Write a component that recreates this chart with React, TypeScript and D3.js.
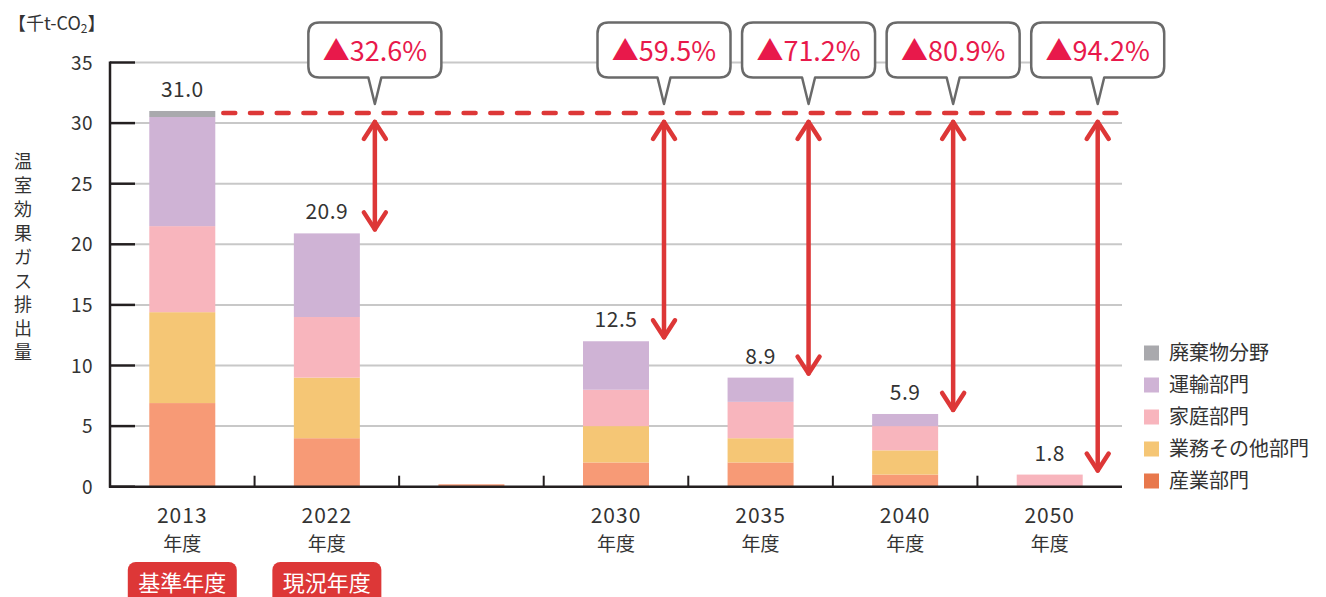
import React from 'react';
import * as d3 from 'd3';

// 年度 categories (the blank slot is the gap between 2022 and 2030)
const categories = ['2013', '2022', '', '2030', '2035', '2040', '2050'];
const badges = ['基準年度', '現況年度', '', '', '', '', ''];

// segments, 千t-CO2
const industry = [6.9, 4.0, 0.2, 2.0, 2.0, 1.0, 0];
const business = [7.5, 5.0, 0, 3.0, 2.0, 2.0, 0];
const household = [7.1, 5.0, 0, 3.0, 3.0, 2.0, 1.0];
const transport = [9.0, 6.9, 0, 4.0, 2.0, 1.0, 0];
const waste = [0.5, 0, 0, 0, 0, 0, 0];

const totalLabels = ['31.0', '20.9', '', '12.5', '8.9', '5.9', '1.8'];
const reductionLabels = ['', '▲32.6%', '', '▲59.5%', '▲71.2%', '▲80.9%', '▲94.2%'];
const baseValue = 31.0;

const yTicks = [0, 5, 10, 15, 20, 25, 30, 35];

const seriesNames = ['産業部門', '業務その他部門', '家庭部門', '運輸部門', '廃棄物分野'];
const seriesColors = ['#f79a76', '#f5c675', '#f8b5bd', '#cfb3d5', '#a9a9ad'];
const legendColors = ['#e8784c', '#f5c675', '#f8b5bd', '#cfb3d5', '#a9a9ad'];

const font = '"Noto Sans CJK JP", "Noto Sans", sans-serif';
const RED = '#dd3737';

export default function App() {
  const left = 110, right = 1122, top = 62.5, bottom = 486.7;
  const keys = categories.map((c, i) => i + ':' + c);
  const x = d3.scaleBand().domain(keys)
    .range([left, right]).paddingInner(0.5435).paddingOuter(0.27175);
  const y = d3.scaleLinear().domain([0, 35]).range([bottom, top]);
  const bw = x.bandwidth();
  const step = x.step();

  const rows = categories.map((c, i) => ({
    key: keys[i], s0: industry[i], s1: business[i], s2: household[i], s3: transport[i], s4: waste[i],
  }));
  const stack = d3.stack<any>().keys(['s0', 's1', 's2', 's3', 's4'])(rows);
  const tops = rows.map(r => r.s0 + r.s1 + r.s2 + r.s3 + r.s4);

  const callout = (cx: number, i: number) => {
    const w = 133, h = 55, y0 = y(35) - 40, y1 = y0 + h, r = 11, tip = y(baseValue) - 7;
    const x0 = cx - w / 2, x1 = cx + w / 2;
    const p = `M${x0 + r},${y0} H${x1 - r} Q${x1},${y0} ${x1},${y0 + r} V${y1 - r} Q${x1},${y1} ${x1 - r},${y1}` +
      ` H${cx + 6.5} L${cx},${tip} L${cx - 6.5},${y1} H${x0 + r} Q${x0},${y1} ${x0},${y1 - r} V${y0 + r} Q${x0},${y0} ${x0 + r},${y0} Z`;
    return (
      <g key={'c' + i}>
        <path d={p} fill="#fff" stroke="#6a6a6a" strokeWidth={2.5} strokeLinejoin="round" />
        <text x={cx} y={y0 + 38} textAnchor="middle" fontSize={27} fill="#e8194b">{reductionLabels[i]}</text>
      </g>
    );
  };

  const arrow = (ax: number, yTop: number, yBot: number, i: number) => (
    <g key={'a' + i} stroke={RED} strokeWidth={4.5} strokeLinecap="round" strokeLinejoin="round" fill="none">
      <line x1={ax} x2={ax} y1={yTop} y2={yBot} />
      <polyline points={`${ax - 11},${yTop + 17} ${ax},${yTop} ${ax + 11},${yTop + 17}`} />
      <polyline points={`${ax - 11},${yBot - 17} ${ax},${yBot} ${ax + 11},${yBot - 17}`} />
    </g>
  );

  const yTitle = '温室効果ガス排出量'.split('');

  return (
    <svg width={1326} height={597} style={{ position: 'absolute', left: 0, top: 0, fontFamily: font }}>
      {/* unit */}
      <text x={8} y={30} fontSize={18} fill="#333">【千t-CO<tspan fontSize={12} dy={3}>2</tspan><tspan dy={-3}>】</tspan></text>
      {/* y title */}
      {yTitle.map((ch, i) => (
        <text key={i} x={23} y={168 + i * 23.9} textAnchor="middle" fontSize={18} fill="#333">{ch}</text>
      ))}

      {/* grid */}
      {yTicks.filter(t => t > 0).map(t => (
        <line key={t} x1={left + 25} x2={right} y1={y(t)} y2={y(t)} stroke="#c8c8c8" strokeWidth={2} />
      ))}

      {/* bars */}
      {stack.map((layer, si) => (
        <g key={si} fill={seriesColors[si]}>
          {layer.map((d, i) => d[1] - d[0] > 0 ? (
            <rect key={i} x={x(keys[i])} width={bw} y={y(d[1])} height={y(d[0]) - y(d[1])} />
          ) : null)}
        </g>
      ))}

      {/* axes */}
      <line x1={left} x2={left} y1={y(35) - 1} y2={bottom + 1} stroke="#231f20" strokeWidth={2.5} />
      <line x1={left - 1} x2={right} y1={bottom} y2={bottom} stroke="#231f20" strokeWidth={2.5} />
      {yTicks.map(t => (
        <g key={t}>
          <line x1={left} x2={left + 25} y1={y(t)} y2={y(t)} stroke="#231f20" strokeWidth={2.5} />
          <text x={93} y={y(t) + 7} textAnchor="end" fontSize={19} letterSpacing={0.5} fill="#333">{t}</text>
        </g>
      ))}
      {keys.slice(1).map((k, i) => (
        <line key={k} x1={left + (i + 1) * step} x2={left + (i + 1) * step} y1={bottom} y2={bottom - 11} stroke="#231f20" strokeWidth={2} />
      ))}

      {/* x labels */}
      {categories.map((c, i) => c ? (
        <g key={c}>
          <text x={x(keys[i])! + bw / 2} y={523} textAnchor="middle" fontSize={21} letterSpacing={1} fill="#333">{c}</text>
          <text x={x(keys[i])! + bw / 2} y={551} textAnchor="middle" fontSize={19} fill="#333">年度</text>
        </g>
      ) : null)}
      {badges.map((b, i) => b ? (
        <g key={b}>
          <rect x={x(keys[i])! + bw / 2 - 54.5} y={562} width={109} height={45} rx={8} fill={RED} />
          <text x={x(keys[i])! + bw / 2} y={591} textAnchor="middle" fontSize={22} fill="#fff">{b}</text>
        </g>
      ) : null)}

      {/* totals */}
      {totalLabels.map((t, i) => t ? (
        <text key={i} x={x(keys[i])! + bw / 2} y={y(tops[i]) - 14} textAnchor="middle" fontSize={21} letterSpacing={0.5} fill="#333">{t}</text>
      ) : null)}

      {/* base line */}
      <line x1={x(keys[0])! + bw + 8} x2={right} y1={y(baseValue) + 2} y2={y(baseValue) + 2}
        stroke={RED} strokeWidth={4.5} strokeLinecap="round" strokeDasharray="12 14.7" />

      {/* arrows + callouts */}
      {reductionLabels.map((r, i) => r ? arrow(x(keys[i])! + bw + 15, y(baseValue) + 11, y(tops[i]) - 4, i) : null)}
      {reductionLabels.map((r, i) => r ? callout(x(keys[i])! + bw + 15, i) : null)}

      {/* legend */}
      {seriesNames.slice().reverse().map((n, j) => {
        const si = seriesNames.length - 1 - j;
        const cy = 353 + j * 32;
        return (
          <g key={n}>
            <rect x={1144} y={cy - 7.5} width={15} height={15} fill={legendColors[si]} />
            <text x={1169} y={cy + 7} fontSize={20} fill="#333">{n}</text>
          </g>
        );
      })}
    </svg>
  );
}
